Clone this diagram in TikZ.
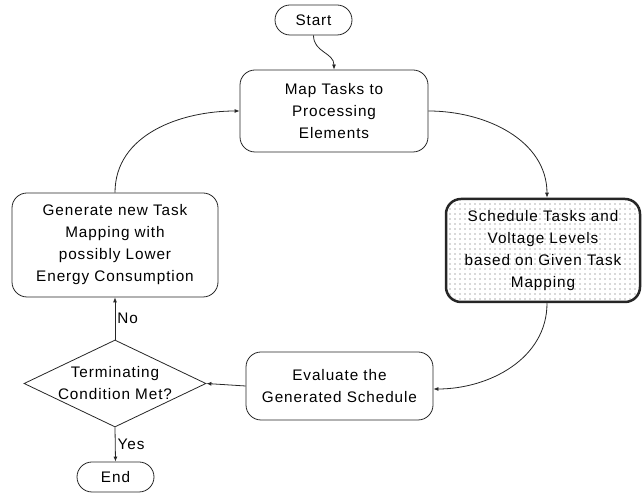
\documentclass[tikz,border=0pt]{standalone}
\usepackage{fontspec}
\setmainfont[LetterSpace=6]{Liberation Sans}
\usetikzlibrary{shapes.geometric,arrows.meta,patterns.meta}
\begin{document}
\begin{tikzpicture}[x=1pt,y=1pt,
  txt/.style={font=\fontsize{15.3}{22}\selectfont, align=center, text=black},
  box/.style={txt, draw=black!85, line width=0.8pt, rounded corners=15pt, inner sep=0pt},
  term/.style={txt, draw=black!85, line width=0.8pt, rounded corners=15pt, inner sep=0pt, minimum width=77pt, minimum height=30pt},
  conn/.style={draw=black!85, line width=0.8pt, -{Latex[length=5pt,width=4pt]}},
  lbl/.style={txt, inner sep=2pt}]
\useasboundingbox (0,0) rectangle (643,494);
\node[term] (start) at (313.5,474) {Start};
\node[box, minimum width=188pt, minimum height=82pt] (map) at (334,383) {Map Tasks to\\Processing\\Elements};
\node[box, minimum width=206pt, minimum height=104pt] (gen) at (115,249) {Generate new Task\\Mapping with\\possibly Lower\\Energy Consumption};
\node[box, line width=2.5pt, minimum width=194pt, minimum height=103pt, pattern={Dots[distance=5pt, radius=0.6pt]}, pattern color=black!65] (sched) at (543,243.5) {};
\node[txt] (schedtxt) at (sched) {Schedule Tasks and\\Voltage Levels\\based on Given Task\\Mapping};
\node[box, minimum width=187pt, minimum height=68pt] (eval) at (339.5,108) {Evaluate the\\Generated Schedule};
\node[draw=black!85, line width=0.8pt, diamond, minimum width=182pt, minimum height=87pt, inner sep=0pt] (cond) at (115,110.5) {};
\node[txt] (condtxt) at (cond) {Terminating\\Condition Met?};
\node[term] (end) at (115.5,17) {End};

\draw[conn] (start.south) to[out=-90,in=90,looseness=1.1] (map.north);
\draw[conn] (gen.north) to[out=90,in=180] (map.west);
\draw[conn] (map.east) to[out=0,in=90] ([xshift=4pt]sched.north);
\draw[conn] ([xshift=4pt]sched.south) to[out=-90,in=0] ([yshift=-3pt]eval.east);
\draw[conn] (eval.west) -- (cond.east);
\draw[conn] (cond.north) -- node[lbl, right] (no) {No} (gen.south);
\draw[conn] (cond.south) -- node[lbl, right] (yes) {Yes} (end.north);
\end{tikzpicture}
\end{document}
